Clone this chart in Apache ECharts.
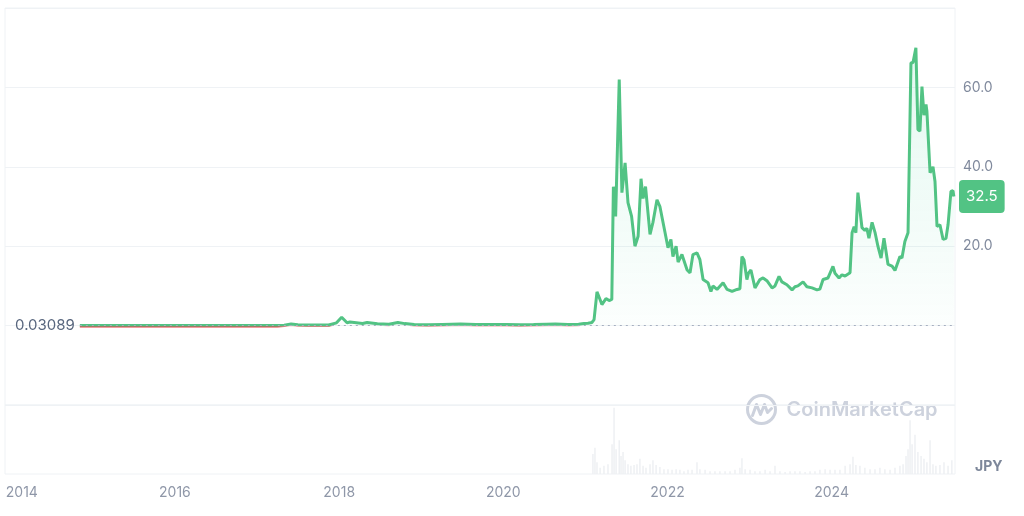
<!DOCTYPE html>
<html><head><meta charset="utf-8">
<script src="https://cdn.jsdelivr.net/npm/echarts@6/dist/echarts.min.js"></script>
<style>html,body{margin:0;padding:0;background:#fff}#c{width:1024px;height:516px}</style>
</head><body><div id="c"></div>
<script>
const startPrice = 0.03089;
const lastPrice = 32.5;
const yearTicks = [2014, 2016, 2018, 2020, 2022, 2024];
const yTicks = [20, 40, 60];

const priceDates = [
'2014-11-04','2014-12-15','2015-02-01','2015-04-01','2015-06-01','2015-08-01','2015-10-01','2015-12-01','2016-02-01','2016-04-01','2016-06-01','2016-08-01','2016-10-01','2016-12-01','2017-02-01','2017-04-01','2017-05-01','2017-06-01','2017-07-01','2017-08-15','2017-10-01','2017-11-15','2017-12-20','2018-01-12','2018-02-05','2018-02-18','2018-04-15','2018-05-05','2018-06-20','2018-08-10','2018-09-19','2018-10-20','2018-12-01','2019-02-01','2019-04-05','2019-06-25','2019-09-01','2019-11-15','2020-01-15','2020-03-15','2020-05-15','2020-07-10','2020-08-20','2020-10-15','2020-12-01','2020-12-25',
'2021-01-12','2021-01-30','2021-02-08','2021-02-21','2021-03-07','2021-03-15','2021-04-02','2021-04-16','2021-04-28','2021-05-05','2021-05-15','2021-05-31','2021-06-12','2021-06-19','2021-06-26','2021-07-09','2021-07-25','2021-08-09','2021-08-23','2021-09-05','2021-09-14','2021-09-25','2021-10-15','2021-10-28','2021-11-15','2021-11-28','2021-12-21',
'2022-01-03','2022-01-16','2022-01-25','2022-02-08','2022-02-17','2022-03-06','2022-03-29','2022-04-11','2022-04-24','2022-05-12','2022-05-25','2022-06-08','2022-06-30','2022-07-13','2022-07-22','2022-08-09','2022-09-05','2022-09-23','2022-10-15','2022-11-06','2022-11-19','2022-11-28','2022-12-07','2022-12-20','2022-12-27',
'2023-01-07','2023-01-25','2023-02-16','2023-03-02','2023-03-19','2023-04-11','2023-04-24','2023-05-12','2023-05-25','2023-06-16','2023-07-09','2023-07-22','2023-08-04','2023-08-27','2023-09-13','2023-10-06','2023-10-28','2023-11-10','2023-11-24','2023-12-16',
'2024-01-07','2024-01-16','2024-02-03','2024-02-16','2024-03-01','2024-03-23','2024-04-01','2024-04-10','2024-04-18','2024-04-27','2024-05-15','2024-05-28','2024-06-06','2024-06-15','2024-06-29','2024-07-12','2024-07-25','2024-08-08','2024-08-21','2024-09-08','2024-09-26','2024-10-09','2024-10-31','2024-11-09','2024-11-22','2024-12-06','2024-12-19','2024-12-28',
'2025-01-10','2025-01-19','2025-01-28','2025-02-06','2025-02-15','2025-02-24','2025-02-28','2025-03-14','2025-03-27','2025-04-05','2025-04-14','2025-04-27','2025-05-11','2025-05-24','2025-06-02','2025-06-15','2025-06-24','2025-06-28'
];
const priceValues = [
0.03089,0.025,0.02,0.018,0.016,0.02,0.018,0.017,0.025,0.027,0.03,0.025,0.024,0.025,0.027,0.04,0.12,0.38,0.2,0.18,0.12,0.14,0.7,2.1,0.7,0.9,0.55,0.8,0.45,0.35,0.8,0.5,0.3,0.22,0.3,0.38,0.28,0.27,0.25,0.19,0.27,0.35,0.38,0.28,0.35,0.5,
0.6,0.8,1.5,8.5,6.5,5.3,6.8,6.3,6.6,35,27.5,62,33.5,33,41,31,27.5,20,22.5,37,32,35,23,26,31.7,30,23.4,
19.6,21.7,17.4,20,16,17.9,14,13.3,17.9,18.3,16.6,11.6,10.8,8.6,10,9.1,10.8,9.1,8.6,9.1,9.3,17.4,16.6,11.6,13.2,
14,9.5,11.6,12,11.3,9.5,10,12.4,11,10.3,9,9.8,10,11,9.8,9.5,9,9.2,11.6,12,
14.9,13.2,12,12.8,12.5,13.3,23.4,24.9,23.4,33.5,24.7,24,24.5,22,26,23.5,20,17,22,15.4,15,13.9,17.4,17,21.2,23.4,66.2,66.2,
70,49.4,49,60.2,53,55.7,54,38.5,40,36.3,25,25.4,21.7,22,25.4,33.8,34,32.5
];

const volDates = [
'2021-02-03','2021-02-12','2021-02-21','2021-03-07','2021-03-24','2021-04-11','2021-04-29','2021-05-08','2021-05-17','2021-05-31','2021-06-08','2021-06-17','2021-06-26','2021-07-09','2021-07-22','2021-08-05','2021-08-18','2021-08-31','2021-09-14','2021-09-27','2021-10-15','2021-10-28','2021-11-11','2021-11-28','2021-12-16',
'2022-01-03','2022-01-21','2022-02-08','2022-02-25','2022-03-15','2022-04-02','2022-04-20','2022-05-12','2022-05-25','2022-06-17','2022-07-09','2022-07-31','2022-08-22','2022-09-14','2022-10-06','2022-10-28','2022-11-19','2022-11-28','2022-12-12',
'2023-01-03','2023-01-25','2023-02-16','2023-03-11','2023-04-02','2023-04-24','2023-05-16','2023-06-08','2023-06-30','2023-07-22','2023-08-13','2023-09-05','2023-09-27','2023-10-19','2023-11-10','2023-12-03','2023-12-25',
'2024-01-16','2024-02-07','2024-03-01','2024-03-23','2024-04-05','2024-04-18','2024-05-06','2024-05-28','2024-06-20','2024-07-12','2024-08-03','2024-08-25','2024-09-17','2024-10-09','2024-10-31','2024-11-14','2024-11-27','2024-12-06','2024-12-15','2024-12-24',
'2025-01-06','2025-01-19','2025-02-02','2025-02-15','2025-02-28','2025-03-14','2025-03-27','2025-04-09','2025-04-27','2025-05-15','2025-06-02','2025-06-19'
];
const volValues = [
29,38,17,9,12,14,43,96,36,49,26,32,20,14,12,13,14,22,12,9,14,20,13,10,7,
7,6,7,6,4,6,6,17,7,6,4,4,4,4,4,6,9,23,7,
6,4,4,6,4,12,4,3,4,4,4,3,4,4,6,7,6,
6,6,12,14,25,13,12,9,7,7,9,7,6,9,12,14,26,36,78,43,
57,32,26,22,17,49,14,12,13,17,12,20
];

const X_MIN = '2013-12-06';
const X_MAX = '2025-07-03';
const GREEN = '#52c384', RED = '#ea3943';
const L = 5, R = 69, TOP = 8, PH = 397, VB = 474;
const Y_MIN = -20, Y_MAX = 80;
const S = PH / (Y_MAX - Y_MIN);
const zeroY = TOP + Y_MAX * S;
const redTop = 328.5;
const redMax = -(redTop - zeroY) / S;

const t = s => { const p = s.split('-').map(Number); return new Date(p[0], p[1] - 1, p[2]).getTime(); };
const price = priceDates.map((d, i) => [t(d), priceValues[i]]);
const vol = volDates.map((d, i) => [t(d), volValues[i]]);

const xBase = { type: 'value', min: t(X_MIN), max: t(X_MAX) };
const chart = echarts.init(document.getElementById('c'));
chart.setOption({
  animation: false,
  textStyle: { fontFamily: 'Inter, sans-serif' },
  grid: [
    { left: L, right: R, top: TOP, height: PH, show: true, borderColor: '#eff2f5', borderWidth: 1 },
    { left: L, right: R, top: TOP + PH, height: VB - TOP - PH, show: true, borderColor: '#eff2f5', borderWidth: 1 },
    { left: L, right: R, top: redTop, height: TOP + PH - redTop, show: false }
  ],
  xAxis: [
    Object.assign({ gridIndex: 0, show: false }, xBase),
    Object.assign({ gridIndex: 1,
      axisLine: { show: false }, axisTick: { show: false }, splitLine: { show: false },
      axisLabel: {
        customValues: yearTicks.map(y => t(y + '-01-01')),
        formatter: v => { const y = new Date(v).getFullYear(); return y === yearTicks[0] ? '{first|' + y + '}' : String(y); },
        color: '#8f97a8', fontSize: 14, margin: 12,
        rich: { first: { padding: [0, 0, 0, 22], color: '#8f97a8', fontSize: 14 } }
      } }, xBase),
    Object.assign({ gridIndex: 2, show: false }, xBase)
  ],
  yAxis: [
    { gridIndex: 0, type: 'value', position: 'right', min: Y_MIN, max: Y_MAX, interval: 20,
      axisLine: { show: false }, axisTick: { show: false },
      splitLine: { lineStyle: { color: '#eff2f5' } },
      axisLabel: { customValues: yTicks, formatter: v => v.toFixed(1), color: '#808a9d', fontSize: 14, margin: 8 } },
    { gridIndex: 1, type: 'value', min: 0, max: 100, show: false },
    { gridIndex: 2, type: 'value', min: Y_MIN, max: redMax, show: false }
  ],
  series: [
    { type: 'bar', xAxisIndex: 1, yAxisIndex: 1, data: vol, barWidth: 1.5, silent: true,
      itemStyle: { color: '#eef0f3' } },
    { type: 'line', xAxisIndex: 0, yAxisIndex: 0, data: price, showSymbol: false, z: 3,
      lineStyle: { color: GREEN, width: 3 },
      areaStyle: { color: new echarts.graphic.LinearGradient(0, 0, 0, 1, [
        { offset: 0, color: 'rgba(22,199,132,0.17)' }, { offset: 1, color: 'rgba(22,199,132,0.02)' }]) },
      markLine: {
        silent: true, symbol: 'none',
        data: [
          [ { coord: [t(priceDates[0]), startPrice],
              lineStyle: { color: '#a6afc0', type: [2, 4], width: 1 },
              label: { show: true, position: 'start', formatter: String(startPrice), color: '#58667e', fontSize: 15, distance: 5 } },
            { coord: [t(X_MAX), startPrice] } ],
          { yAxis: lastPrice, lineStyle: { color: 'rgba(0,0,0,0)', width: 0 },
            label: { show: true, position: 'end', formatter: lastPrice.toFixed(1), color: '#fff', fontSize: 15,
                     backgroundColor: GREEN, padding: [9, 7], borderRadius: 4, distance: 4 } }
        ]
      } },
    { type: 'line', xAxisIndex: 2, yAxisIndex: 2, data: price, showSymbol: false, z: 4, silent: true,
      lineStyle: { color: RED, width: 4 } }
  ],
  graphic: [
    { type: 'group', left: 745, top: 393, silent: true, children: [
      { type: 'circle', shape: { cx: 16, cy: 16, r: 14 }, style: { fill: 'none', stroke: '#cdd2dd', lineWidth: 3 } },
      { type: 'polyline', shape: { points: [[7, 22], [11, 11], [15, 21], [19, 11], [22, 19], [26, 15]] },
        style: { fill: 'none', stroke: '#cdd2dd', lineWidth: 3, lineJoin: 'round', lineCap: 'round' } },
      { type: 'text', x: 41, y: 16, style: { text: 'CoinMarketCap', font: '600 20px Inter', fill: '#cdd2dd', verticalAlign: 'middle' } }
    ] },
    { type: 'text', left: 975, top: 460, silent: true, style: { text: 'JPY', font: 'bold 14px Inter', fill: '#7d879a' } }
  ]
});
</script>
</body></html>
